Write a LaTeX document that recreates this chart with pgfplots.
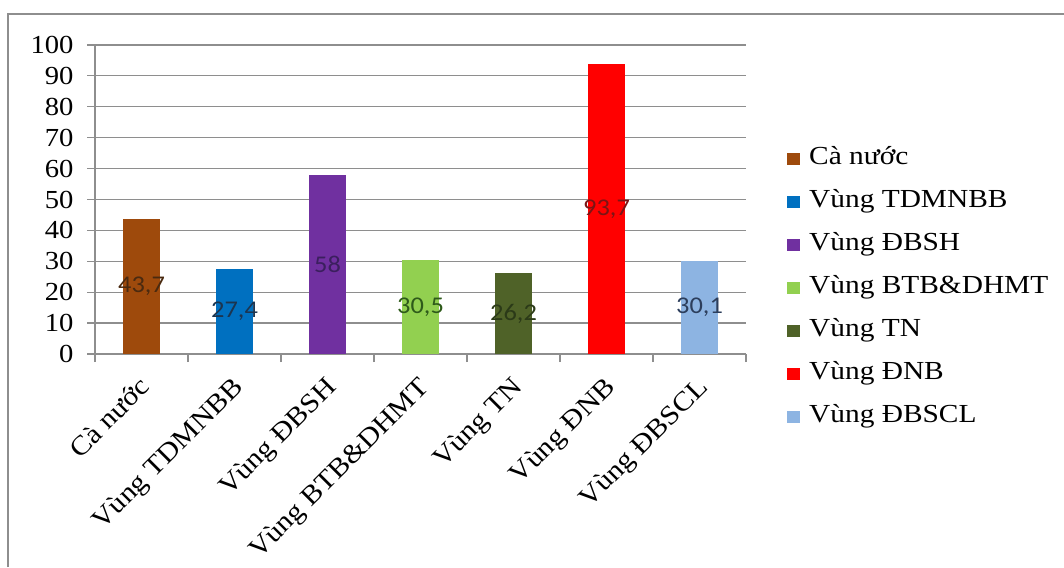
\documentclass[border=0pt]{standalone}
\usepackage{pgfplots}
\pgfplotsset{compat=1.18}
\usepackage{fontspec}
\setmainfont{Liberation Serif}
\newfontfamily\tfont{Liberation Serif}[FakeStretch=1.1]
\newfontfamily\gfont{Liberation Serif}[FakeStretch=1.13]
\newfontfamily\lfont{Carlito}[FakeStretch=1.1]
\definecolor{c1}{HTML}{9E4A0C}
\definecolor{c2}{HTML}{0070C0}
\definecolor{c3}{HTML}{7030A0}
\definecolor{c4}{HTML}{92D050}
\definecolor{c5}{HTML}{4F6228}
\definecolor{c6}{HTML}{FF0000}
\definecolor{c7}{HTML}{8DB4E2}
\definecolor{l1}{HTML}{4A2A10}
\definecolor{l2}{HTML}{1C3550}
\definecolor{l3}{HTML}{3B1F5E}
\definecolor{l4}{HTML}{2E5A1A}
\definecolor{l5}{HTML}{2B3A18}
\definecolor{l6}{HTML}{7A1515}
\definecolor{l7}{HTML}{2C3E5C}
\definecolor{gridc}{HTML}{8E8E8E}
\begin{document}
\begin{tikzpicture}[x=1pt,y=1pt]
\useasboundingbox (0,0) rectangle (1064,567);
\draw[gridc, line width=1.5pt] (8,0) -- (8,553) -- (1064,553);
\begin{axis}[
  at={(95pt,213pt)}, anchor=south west,
  scale only axis, width=651pt, height=309pt,
  xmin=-0.5, xmax=6.5, ymin=0, ymax=100,
  ybar, bar width=37pt, bar shift=0pt,
  axis lines*=left,
  axis line style={gridc, line width=1.2pt},
  ytick={0,10,...,100},
  ymajorgrids,
  major grid style={gridc, line width=1.2pt},
  ytick style={gridc, line width=1.2pt},
  ytick align=outside, major tick length=8pt,
  xtick={-0.5,0.5,...,6.5}, xticklabels={},
  xtick style={gridc, line width=1.2pt},
  xtick align=outside,
  extra x ticks={0,1,2,3,4,5,6},
  extra x tick labels={Cà nước, Vùng TDMNBB, Vùng ĐBSH, Vùng BTB\&DHMT, Vùng TN, Vùng ĐNB, Vùng ĐBSCL},
  extra x tick style={major tick length=0pt, xticklabel style={rotate=45, anchor=north east, xshift=-14pt, yshift=-9pt, font=\tfont\fontsize{27}{30}\selectfont}},
  tick label style={font=\tfont\fontsize{26}{29}\selectfont, text=black},
  yticklabel style={xshift=-10pt},
  /pgf/number format/assume math mode=true,
  legend style={draw=none, fill=none, at={(1.063,0.672)}, anchor=north west,
     font=\gfont\fontsize{26}{29}\selectfont, row sep=19pt, inner sep=0pt,
     nodes={inner sep=0pt, text height=18pt, text depth=6pt},
     /tikz/every odd column/.append style={column sep=9pt}},
  legend cell align=left,
  legend image code/.code={\fill[#1] (0pt,-6pt) rectangle (13pt,6pt);},
  every node near coord/.append style={font=\lfont\fontsize{24}{26}\selectfont, anchor=center},
]
\addplot[fill=c1, draw=none] coordinates {(0,43.7)}; \addlegendentry{Cà nước}
\addplot[fill=c2, draw=none] coordinates {(1,27.4)}; \addlegendentry{Vùng TDMNBB}
\addplot[fill=c3, draw=none] coordinates {(2,58)}; \addlegendentry{Vùng ĐBSH}
\addplot[fill=c4, draw=none] coordinates {(3,30.5)}; \addlegendentry{Vùng BTB\&DHMT}
\addplot[fill=c5, draw=none] coordinates {(4,26.2)}; \addlegendentry{Vùng TN}
\addplot[fill=c6, draw=none] coordinates {(5,93.7)}; \addlegendentry{Vùng ĐNB}
\addplot[fill=c7, draw=none] coordinates {(6,30.1)}; \addlegendentry{Vùng ĐBSCL}
\addplot[forget plot, draw=none, fill=none, y filter/.expression={y/2}, nodes near coords={43,7}, nodes near coords style={text=l1}] coordinates {(0,43.7)};
\addplot[forget plot, draw=none, fill=none, y filter/.expression={y/2}, nodes near coords={27,4}, nodes near coords style={text=l2}] coordinates {(1,27.4)};
\addplot[forget plot, draw=none, fill=none, y filter/.expression={y/2}, nodes near coords={58}, nodes near coords style={text=l3}] coordinates {(2,58)};
\addplot[forget plot, draw=none, fill=none, y filter/.expression={y/2}, nodes near coords={30,5}, nodes near coords style={text=l4}] coordinates {(3,30.5)};
\addplot[forget plot, draw=none, fill=none, y filter/.expression={y/2}, nodes near coords={26,2}, nodes near coords style={text=l5}] coordinates {(4,26.2)};
\addplot[forget plot, draw=none, fill=none, y filter/.expression={y/2}, nodes near coords={93,7}, nodes near coords style={text=l6}] coordinates {(5,93.7)};
\addplot[forget plot, draw=none, fill=none, y filter/.expression={y/2}, nodes near coords={30,1}, nodes near coords style={text=l7}] coordinates {(6,30.1)};
\end{axis}
\end{tikzpicture}
\end{document}
